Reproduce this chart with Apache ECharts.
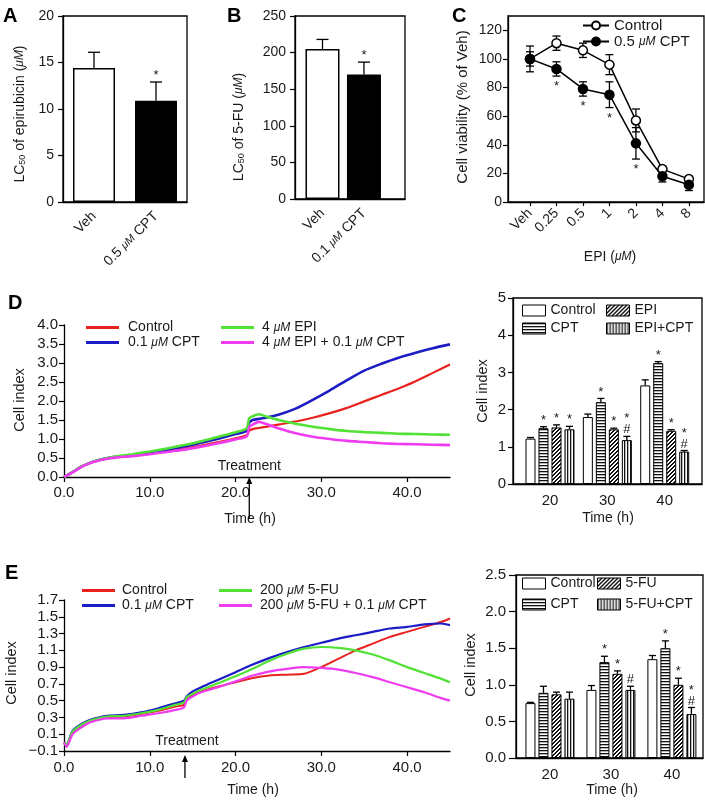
<!DOCTYPE html>
<html><head><meta charset="utf-8">
<script src="https://cdn.jsdelivr.net/npm/echarts@6/dist/echarts.min.js"></script>
<style>html,body{margin:0;padding:0;background:#fff}#c{width:705px;height:801px}</style>
</head><body><div id="c"></div>
<script>
// ================= DATA =================
// Panel A
const catsA = ['Veh', '0.5 μM CPT'];
const meanA = [14.4, 10.9];
const errA = [1.7, 2.0];
const sigA = ['', '*'];
// Panel B
const catsB = ['Veh', '0.1 μM CPT'];
const meanB = [205, 170];
const errB = [13, 17];
const sigB = ['', '*'];
// Panel C
const catsC = ['Veh', '0.25', '0.5', '1', '2', '4', '8'];
const ctrlC = [100, 111, 106, 96, 57, 23, 16];
const ctrlErrC = [5, 5, 5, 7, 8, 2, 2];
const cptC = [100, 93, 79, 75, 41, 18, 12];
const cptErrC = [9, 5, 5, 9, 11, 4, 4];
const sigC = ['', '*', '*', '*', '*', '', ''];
// Panel D (left) real-time cell index
const timeD = [0, 1, 2, 3, 4, 5, 6, 8, 10, 12, 14, 16, 18, 20, 21.3, 21.6, 22, 22.7, 23.5, 25, 27, 29, 31, 33, 35, 37, 39, 41, 43, 45];
const ctrlD = [0, 0.13, 0.27, 0.37, 0.44, 0.49, 0.52, 0.56, 0.62, 0.68, 0.75, 0.83, 0.92, 1.02, 1.1, 1.22, 1.26, 1.29, 1.32, 1.38, 1.46, 1.56, 1.68, 1.82, 1.99, 2.16, 2.33, 2.52, 2.74, 2.96];
const cptD = [0, 0.13, 0.27, 0.37, 0.44, 0.49, 0.53, 0.58, 0.64, 0.71, 0.8, 0.9, 1.01, 1.13, 1.22, 1.43, 1.5, 1.53, 1.56, 1.64, 1.8, 2.03, 2.28, 2.55, 2.8, 2.98, 3.14, 3.27, 3.39, 3.49];
const epiD = [0, 0.13, 0.27, 0.37, 0.44, 0.5, 0.54, 0.6, 0.67, 0.75, 0.84, 0.94, 1.06, 1.18, 1.28, 1.55, 1.6, 1.65, 1.6, 1.5, 1.4, 1.32, 1.26, 1.21, 1.18, 1.16, 1.14, 1.13, 1.12, 1.11];
const epiCptD = [0, 0.12, 0.26, 0.36, 0.43, 0.48, 0.51, 0.55, 0.6, 0.66, 0.72, 0.8, 0.89, 0.99, 1.07, 1.32, 1.38, 1.45, 1.4, 1.28, 1.15, 1.06, 1.0, 0.95, 0.92, 0.89, 0.87, 0.86, 0.85, 0.84];
const treatD = 21.6;
// Panel D (right) bars
const catsDR = ['20', '30', '40'];
const ctrlDR = [1.22, 1.8, 2.65];   const ctrlErrDR = [0.03, 0.08, 0.15];   const ctrlSigDR = ['', '', ''];
const cptDR = [1.5, 2.2, 3.25];     const cptErrDR = [0.04, 0.1, 0.04];     const cptSigDR = ['*', '*', '*'];
const epiDR = [1.52, 1.47, 1.43];   const epiErrDR = [0.07, 0.03, 0.03];    const epiSigDR = ['*', '*', '*'];
const epiCptDR = [1.47, 1.18, 0.87]; const epiCptErrDR = [0.08, 0.1, 0.03]; const epiCptSigDR = ['*', '*#', '*#'];
// Panel E (left)
const timeE = [0, 0.3, 1, 2, 3, 4, 5, 7, 9, 11, 13, 14, 14.3, 15, 16, 18, 20, 22, 24, 26, 28, 30, 32, 34, 36, 38, 40, 42, 44, 45];
const ctrlE = [0, -0.03, 0.12, 0.2, 0.25, 0.28, 0.3, 0.31, 0.34, 0.38, 0.43, 0.45, 0.52, 0.57, 0.61, 0.67, 0.72, 0.77, 0.8, 0.81, 0.82, 0.9, 1.0, 1.1, 1.18, 1.26, 1.32, 1.38, 1.44, 1.48];
const cptE = [0, -0.02, 0.14, 0.22, 0.27, 0.3, 0.32, 0.33, 0.36, 0.41, 0.47, 0.5, 0.55, 0.61, 0.66, 0.75, 0.84, 0.93, 1.01, 1.08, 1.14, 1.19, 1.24, 1.28, 1.32, 1.36, 1.38, 1.41, 1.42, 1.4];
const fuE = [0, -0.02, 0.13, 0.21, 0.26, 0.29, 0.31, 0.32, 0.35, 0.39, 0.45, 0.48, 0.54, 0.58, 0.63, 0.71, 0.79, 0.88, 0.98, 1.06, 1.12, 1.14, 1.13, 1.1, 1.05, 0.98, 0.9, 0.83, 0.76, 0.72];
const fuCptE = [0, -0.05, 0.1, 0.18, 0.24, 0.27, 0.29, 0.29, 0.32, 0.35, 0.39, 0.42, 0.5, 0.55, 0.6, 0.66, 0.73, 0.8, 0.85, 0.88, 0.9, 0.89, 0.87, 0.83, 0.78, 0.72, 0.66, 0.6, 0.53, 0.5];
const treatE = 14.1;
// Panel E (right) bars
const catsER = ['20', '30', '40'];
const ctrlER = [0.75, 0.93, 1.35];  const ctrlErrER = [0.01, 0.06, 0.05];  const ctrlSigER = ['', '', ''];
const cptER = [0.89, 1.31, 1.5];    const cptErrER = [0.09, 0.08, 0.1];    const cptSigER = ['', '*', '*'];
const fuER = [0.87, 1.15, 1.0];     const fuErrER = [0.03, 0.04, 0.09];    const fuSigER = ['', '*', '*'];
const fuCptER = [0.81, 0.93, 0.6];  const fuCptErrER = [0.09, 0.05, 0.09]; const fuCptSigER = ['', '#', '*#'];

// ================= STYLE =================
const FONT = '"Liberation Sans", Arial, Helvetica, sans-serif';
const TXT = '#1a1a1a';
const FS = 14;
const RED = '#e8231f', BLUE = '#1c1cc4', GREEN = '#52e236', MAG = '#f03cf0';
const richMu = {
  u: { fontStyle: 'italic', fontSize: 11, fontFamily: FONT, color: TXT },
  s: { fontSize: 9, fontFamily: FONT, color: TXT, verticalAlign: 'bottom' }
};
const mu = s => s.replace('μM', '{u|μM}');

function pattern(kind) {
  const c = document.createElement('canvas');
  const n = kind === 'd' ? 4 : 3;
  c.width = n; c.height = n;
  const g = c.getContext('2d');
  g.fillStyle = '#fff'; g.fillRect(0, 0, n, n);
  g.fillStyle = '#111';
  if (kind === 'h') g.fillRect(0, 0, n, 1.3);
  if (kind === 'v') g.fillRect(0, 0, 1.3, n);
  if (kind === 'd') { for (let i = 0; i < n; i++) { g.fillRect(i, n - 1 - i, 1, 1); g.fillRect((i + 1) % n, n - 1 - i, 1, 1); } }
  return { image: c, repeat: 'repeat' };
}
const PAT_H = pattern('h'), PAT_V = pattern('v'), PAT_D = pattern('d');

const grids = [
  { left: 63, top: 16, width: 124, height: 186 },   // 0 A
  { left: 295, top: 16, width: 110, height: 183 },  // 1 B
  { left: 508, top: 16, width: 196, height: 186 },  // 2 C
  { left: 64, top: 325, width: 386, height: 152 },  // 3 D left
  { left: 513, top: 298, width: 189, height: 186 }, // 4 D right
  { left: 64, top: 600, width: 386, height: 151 },  // 5 E left
  { left: 516, top: 575, width: 187, height: 183 }  // 6 E right
].map((g, i) => Object.assign({
  show: [0, 1, 2, 4, 6].includes(i), borderColor: '#000', borderWidth: 1.3,
  backgroundColor: 'transparent', containLabel: false, outerBoundsMode: 'none'
}, g));

const axLine = { show: true, onZero: false, lineStyle: { color: '#000', width: 1.3 } };
const tick = (show, len) => ({ show, inside: false, length: len || 4, alignWithLabel: true, lineStyle: { color: '#000', width: 1.2 } });
const lab = (extra) => Object.assign({ color: TXT, fontFamily: FONT, fontSize: FS, margin: 6, rich: richMu }, extra || {});

function catX(gi, data, labExtra, tickShow) {
  return { type: 'category', gridIndex: gi, data, boundaryGap: true,
    axisLine: axLine, axisTick: tick(tickShow), axisLabel: lab(labExtra), splitLine: { show: false } };
}
// value axis used as a category-like axis (index positions, labels from category array)
function idxX(gi, cats, min, max, labExtra, tickShow) {
  const idx = cats.map((c, i) => i);
  return { type: 'value', gridIndex: gi, min, max,
    axisLine: axLine,
    axisTick: Object.assign(tick(tickShow), { customValues: idx }),
    axisLabel: lab(Object.assign({ customValues: idx, formatter: v => cats[Math.round(v)] }, labExtra)),
    splitLine: { show: false } };
}
function valY(gi, min, max, interval, dec, custom, margin, tlen, fs) {
  const a = { type: 'value', gridIndex: gi, min, max, interval,
    axisLine: axLine, axisTick: tick(true, tlen || 5),
    axisLabel: lab({ margin: margin || 6, fontSize: fs || FS, formatter: v => { const s = Math.abs(v).toFixed(dec); return (v < -1e-9 ? '−' : '') + s; } }),
    splitLine: { show: false } };
  if (custom) { a.axisTick.customValues = custom; a.axisLabel.customValues = custom; }
  return a;
}

const xAxes = [
  catX(0, catsA.map(mu), { rotate: 45, margin: 12 }, false),
  idxX(1, catsB.map(mu), -0.663, 1.99, { rotate: 45, margin: 12 }, false),
  idxX(2, catsC, -0.83, 6.57, { rotate: 45, margin: 9 }, true),
  { type: 'value', gridIndex: 3, min: 0, max: 45, interval: 10, axisLine: axLine,
    axisTick: Object.assign(tick(true, 5), { customValues: [0, 10, 20, 30, 40] }),
    axisLabel: lab({ margin: 8, fontSize: 15, formatter: v => v.toFixed(1), customValues: [0, 10, 20, 30, 40] }), splitLine: { show: false } },
  idxX(4, catsDR, -0.645, 2.65, { margin: 9, fontSize: 15 }, false),
  { type: 'value', gridIndex: 5, min: 0, max: 45, interval: 10, axisLine: axLine,
    axisTick: Object.assign(tick(true, 5), { customValues: [0, 10, 20, 30, 40] }),
    axisLabel: lab({ margin: 9, fontSize: 15, formatter: v => v.toFixed(1), customValues: [0, 10, 20, 30, 40] }), splitLine: { show: false } },
  idxX(6, catsER, -0.557, 2.51, { margin: 9, fontSize: 15 }, false)
];
const yAxes = [
  valY(0, 0, 20, 5, 0, null, 9),
  valY(1, 0, 250, 50, 0, null, 9),
  valY(2, 0, 130, 20, 0, [0, 20, 40, 60, 80, 100, 120], 6),
  valY(3, 0, 4, 0.5, 1, null, 6, 5, 15),
  valY(4, 0, 5, 1, 0, null, 7, 5, 15),
  valY(5, -0.1, 1.7, 0.2, 1, null, 6, 5, 15),
  valY(6, 0, 2.5, 0.5, 1, null, 10, 7, 15)
];

// ---------- helpers for custom marks ----------
const ln = (x1, y1, x2, y2, w) => ({ type: 'line', shape: { x1, y1, x2, y2 }, style: { stroke: '#000', lineWidth: w || 1.3 } });
function sigText(x, y, sig, fs) {
  return { type: 'text', x, y, style: { text: sig.split('').join('\n'), fill: TXT,
    font: (fs || 13) + 'px ' + FONT, lineHeight: 11, align: 'center', verticalAlign: 'bottom',
    textAlign: 'center', textVerticalAlign: 'bottom' } };
}
// upward error bar (+ significance marks) for bar charts
function errUp(gi, vals, errs, sigs, offset, halfCap) {
  return { type: 'custom', xAxisIndex: gi, yAxisIndex: gi, z: 5, silent: true, clip: false,
    data: vals.map((v, i) => [i, v, errs[i]]),
    renderItem(params, api) {
      const i = api.value(0), v = api.value(1), e = api.value(2);
      const p0 = api.coord([i, v]), p1 = api.coord([i, v + e]);
      const x = p0[0] + offset;
      const ch = [ln(x, p0[1], x, p1[1]), ln(x - halfCap, p1[1], x + halfCap, p1[1])];
      const s = sigs[params.dataIndex];
      if (s) ch.push(sigText(x, p1[1] - 1, s));
      return { type: 'group', children: ch };
    } };
}
// two-sided error bar (+ stars below) for panel C
function errBoth(gi, vals, errs, sigs, halfCap) {
  return { type: 'custom', xAxisIndex: gi, yAxisIndex: gi, z: 2, silent: true, clip: false,
    data: vals.map((v, i) => [i, v, errs[i]]),
    renderItem(params, api) {
      const i = api.value(0), v = api.value(1), e = api.value(2);
      const pt = api.coord([i, v + e]), pb = api.coord([i, v - e]);
      const x = pt[0];
      const ch = [ln(x, pt[1], x, pb[1]), ln(x - halfCap, pt[1], x + halfCap, pt[1]), ln(x - halfCap, pb[1], x + halfCap, pb[1])];
      const s = sigs && sigs[params.dataIndex];
      if (s) ch.push({ type: 'text', x, y: pb[1] + 4, style: { text: s, fill: TXT, font: '13px ' + FONT,
        align: 'center', verticalAlign: 'top', textAlign: 'center', textVerticalAlign: 'top' } });
      return { type: 'group', children: ch };
    } };
}
function treatment(gi, t, yBase, tipGap, len, textGap, textDx) {
  return { type: 'custom', xAxisIndex: gi, yAxisIndex: gi, z: 6, silent: true, clip: false,
    data: [[t, yBase]],
    renderItem(params, api) {
      const p = api.coord([api.value(0), api.value(1)]);
      const x = p[0], y = p[1];
      return { type: 'group', children: [
        ln(x, y + tipGap + 5, x, y + tipGap + len, 1.3),
        { type: 'polygon', shape: { points: [[x, y + tipGap], [x - 3, y + tipGap + 7], [x + 3, y + tipGap + 7]] }, style: { fill: '#000' } },
        { type: 'text', x: x + textDx, y: y - textGap, style: { text: 'Treatment', fill: TXT, font: FS + 'px ' + FONT,
          align: 'center', verticalAlign: 'bottom', textAlign: 'center', textVerticalAlign: 'bottom' } }
      ] };
    } };
}
const barSeries = (gi, name, vals, color, width) => ({ type: 'bar', name, xAxisIndex: gi, yAxisIndex: gi,
  data: vals.map((v, i) => [i, v]), barWidth: width, barGap: '30%', color,
  itemStyle: { color, borderColor: '#000', borderWidth: 1 }, z: 3, silent: true });
const timeLine = (gi, name, times, vals, color, w) => ({ type: 'line', name, xAxisIndex: gi, yAxisIndex: gi,
  data: times.map((t, i) => [t, vals[i]]), showSymbol: false, symbol: 'none', smooth: 0.25, color,
  lineStyle: { color, width: w }, z: 3, silent: true });

const series = [];
// A
series.push({ type: 'bar', name: 'A', xAxisIndex: 0, yAxisIndex: 0, barWidth: 42, silent: true,
  data: meanA.map((v, i) => ({ value: v, itemStyle: { color: i ? '#000' : '#fff', borderColor: '#000', borderWidth: 1.5 } })) });
series.push(errUp(0, meanA, errA, sigA, 0, 6));
// B
series.push({ type: 'bar', name: 'B', xAxisIndex: 1, yAxisIndex: 1, barWidth: 34, silent: true,
  data: meanB.map((v, i) => ({ value: [i, v], itemStyle: { color: i ? '#000' : '#fff', borderColor: '#000', borderWidth: 1.5 } })) });
series.push(errUp(1, meanB, errB, sigB, 0, 6));
// C
series.push(errBoth(2, ctrlC, ctrlErrC, null, 4));
series.push(errBoth(2, cptC, cptErrC, sigC, 4));
series.push({ type: 'line', name: 'C_ctrl', xAxisIndex: 2, yAxisIndex: 2, data: ctrlC.map((v, i) => [i, v]), symbol: 'circle', symbolSize: 9,
  color: '#000', itemStyle: { color: '#fff', borderColor: '#000', borderWidth: 1.5 }, lineStyle: { color: '#000', width: 1.5 }, z: 3, silent: true });
series.push({ type: 'line', name: 'C_cpt', xAxisIndex: 2, yAxisIndex: 2, data: cptC.map((v, i) => [i, v]), symbol: 'circle', symbolSize: 9,
  color: '#000', itemStyle: { color: '#000', borderColor: '#000', borderWidth: 1.5 }, lineStyle: { color: '#000', width: 1.5 }, z: 4, silent: true });
// D left
series.push(timeLine(3, 'D_ctrl', timeD, ctrlD, RED, 2.2));
series.push(timeLine(3, 'D_cpt', timeD, cptD, BLUE, 2.6));
series.push(timeLine(3, 'D_epi', timeD, epiD, GREEN, 2.6));
series.push(timeLine(3, 'D_epicpt', timeD, epiCptD, MAG, 2.6));
series.push(treatment(3, treatD, 0, 0, 41, 4, 0));
// D right
series.push(barSeries(4, 'DR_ctrl', ctrlDR, '#fff', 10));
series.push(barSeries(4, 'DR_cpt', cptDR, PAT_H, 10));
series.push(barSeries(4, 'DR_epi', epiDR, PAT_D, 10));
series.push(barSeries(4, 'DR_epicpt', epiCptDR, PAT_V, 10));
series.push(errUp(4, ctrlDR, ctrlErrDR, ctrlSigDR, -19.5, 3.5));
series.push(errUp(4, cptDR, cptErrDR, cptSigDR, -6.5, 3.5));
series.push(errUp(4, epiDR, epiErrDR, epiSigDR, 6.5, 3.5));
series.push(errUp(4, epiCptDR, epiCptErrDR, epiCptSigDR, 19.5, 3.5));
// E left
series.push(timeLine(5, 'E_ctrl', timeE, ctrlE, RED, 2));
series.push(timeLine(5, 'E_cpt', timeE, cptE, BLUE, 2.2));
series.push(timeLine(5, 'E_fu', timeE, fuE, GREEN, 2.2));
series.push(timeLine(5, 'E_fucpt', timeE, fuCptE, MAG, 2.2));
series.push(treatment(5, treatE, -0.1, 4, 23, 3, 2));
// E right
series.push(barSeries(6, 'ER_ctrl', ctrlER, '#fff', 10));
series.push(barSeries(6, 'ER_cpt', cptER, PAT_H, 10));
series.push(barSeries(6, 'ER_fu', fuER, PAT_D, 10));
series.push(barSeries(6, 'ER_fucpt', fuCptER, PAT_V, 10));
series.push(errUp(6, ctrlER, ctrlErrER, ctrlSigER, -19.5, 3.5));
series.push(errUp(6, cptER, cptErrER, cptSigER, -6.5, 3.5));
series.push(errUp(6, fuER, fuErrER, fuSigER, 6.5, 3.5));
series.push(errUp(6, fuCptER, fuCptErrER, fuCptSigER, 19.5, 3.5));

// ---------- legends ----------
const legendLabels = {
  C_ctrl: 'Control', C_cpt: '0.5 {u|μM} CPT',
  D_ctrl: 'Control', D_cpt: '0.1 {u|μM} CPT', D_epi: '4 {u|μM} EPI', D_epicpt: '4 {u|μM} EPI + 0.1 {u|μM} CPT',
  DR_ctrl: 'Control', DR_cpt: 'CPT', DR_epi: 'EPI', DR_epicpt: 'EPI+CPT',
  E_ctrl: 'Control', E_cpt: '0.1 {u|μM} CPT', E_fu: '200 {u|μM} 5-FU', E_fucpt: '200 {u|μM} 5-FU + 0.1 {u|μM} CPT',
  ER_ctrl: 'Control', ER_cpt: 'CPT', ER_fu: '5-FU', ER_fucpt: '5-FU+CPT'
};
const legTxt = (padL, fs) => ({ color: TXT, fontFamily: FONT, fontSize: fs || FS, lineHeight: 15, padding: [0, 0, 0, padL || 0],
  rich: { u: { fontStyle: 'italic', fontSize: 12, fontFamily: FONT, color: TXT } } });
function leg(data, left, top, opts) {
  return Object.assign({ data, left, top, orient: 'vertical', selectedMode: false, padding: 0,
    itemGap: 0, itemWidth: 33, itemHeight: 3, icon: 'rect', textStyle: legTxt(0),
    formatter: n => legendLabels[n] }, opts || {});
}
const barLeg = (gap) => ({ icon: 'rect', itemWidth: 23, itemHeight: 11, itemGap: gap, itemStyle: { borderColor: '#000', borderWidth: 1 } });
const legends = [
  leg(['C_ctrl', 'C_cpt'], 582, 18, { itemWidth: 26, itemHeight: 10, itemGap: 1, textStyle: legTxt(0, 15) }),
  leg(['D_ctrl', 'D_cpt'], 86, 320, { textStyle: legTxt(4) }),
  leg(['D_epi', 'D_epicpt'], 221, 320, { textStyle: legTxt(3) }),
  leg(['DR_ctrl', 'DR_cpt'], 522, 303, barLeg(3)),
  leg(['DR_epi', 'DR_epicpt'], 606, 303, barLeg(3)),
  leg(['E_ctrl', 'E_cpt'], 82, 583, { textStyle: legTxt(2) }),
  leg(['E_fu', 'E_fucpt'], 219, 583, { textStyle: legTxt(3) }),
  leg(['ER_ctrl', 'ER_cpt'], 522, 576, barLeg(6)),
  leg(['ER_fu', 'ER_fucpt'], 597, 576, barLeg(6))
];
delete legends[0].icon;

// ---------- titles / panel letters ----------
const richT = { u: { fontStyle: 'italic', fontSize: 12, fontFamily: FONT, fill: TXT }, s: { fontSize: 9, fontFamily: FONT, fill: TXT, verticalAlign: 'bottom', padding: [5, 0, 0, 0] } };
function ttl(text, x, y, rot, fs) {
  return { type: 'text', x, y, rotation: rot ? Math.PI / 2 : 0, silent: true,
    style: { text, fill: TXT, font: (fs || FS) + 'px ' + FONT, align: 'center', verticalAlign: 'middle',
      textAlign: 'center', textVerticalAlign: 'middle', rich: richT } };
}
function letter(t, x, y) {
  return { type: 'text', x, y, silent: true, style: { text: t, fill: '#000', font: 'bold 20px ' + FONT,
    align: 'left', verticalAlign: 'top', textAlign: 'left', textVerticalAlign: 'top' } };
}
const graphics = [
  letter('A', 3, 6), letter('B', 227, 6), letter('C', 452, 6), letter('D', 8, 293), letter('E', 5, 563),
  ttl('LC{s|50} of epirubicin ({u|μM})', 20, 114, true),
  ttl('LC{s|50} of 5-FU ({u|μM})', 239, 127, true),
  ttl('Cell viability (% of Veh)', 463, 107, true, 15),
  ttl('EPI ({u|μM})', 610, 257, false),
  ttl('Cell index', 20, 400, true, 14.5),
  ttl('Time (h)', 250, 519, false),
  ttl('Cell index', 483, 391, true, 14.5),
  ttl('Time (h)', 608, 518, false),
  ttl('Cell index', 12, 673, true, 14.5),
  ttl('Time (h)', 253, 790, false),
  ttl('Cell index', 471, 665, true, 14.5),
  ttl('Time (h)', 612, 790, false)
];

const chart = echarts.init(document.getElementById('c'), null, { renderer: 'canvas' });
chart.setOption({
  animation: false,
  backgroundColor: '#fff',
  textStyle: { fontFamily: FONT },
  grid: grids, xAxis: xAxes, yAxis: yAxes,
  legend: legends, series, graphic: graphics
});
</script></body></html>
